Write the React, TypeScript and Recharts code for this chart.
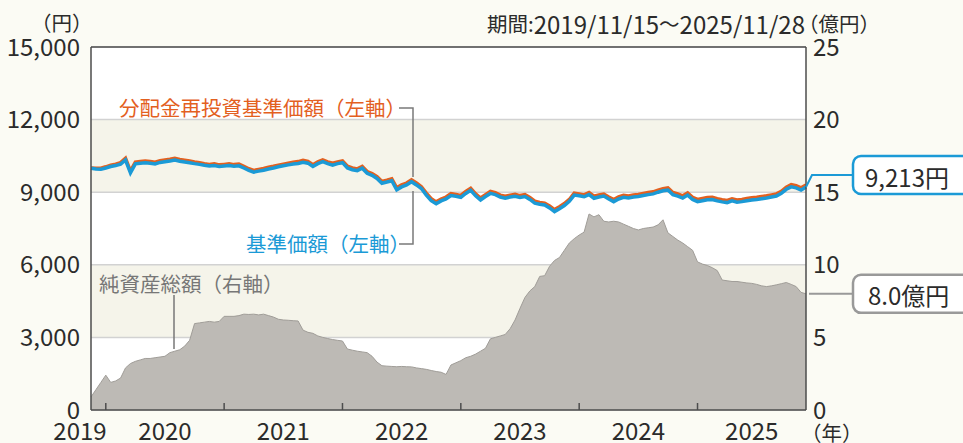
import {
  ComposedChart,
  Line,
  Area,
  XAxis,
  YAxis,
  CartesianGrid,
  ReferenceLine,
  ReferenceDot,
} from "recharts";

const FONT = "'Noto Sans CJK JP', 'Noto Sans', sans-serif";
const ORANGE = "#e3601f";
const BLUE = "#1b9ad6";
const AREA_FILL = "#bdbab5";
const AREA_LINE = "#a09d98";
const TEXT = "#2b2b2b";
const FRAME = "#4d4d4d";
const LEADER = "#7a7a7a";

// half-month steps starting 2019/11/15
const navValues = [
  9990, 9960, 9945, 10000, 10060, 10100, 10160, 10330, 9800, 10170,
  10200, 10220, 10200, 10170, 10230, 10260, 10290, 10330, 10280, 10250,
  10220, 10180, 10150, 10110, 10080, 10100, 10060, 10080, 10100, 10070,
  10090, 10000, 9900, 9830, 9870, 9910, 9960, 10000, 10050, 10090,
  10130, 10165, 10190, 10240, 10200, 10060, 10180, 10260, 10180, 10120,
  10180, 10220, 10000, 9930, 9890, 9990, 9780, 9700, 9570, 9370,
  9420, 9475, 9100, 9220, 9300, 9435, 9300, 9150, 8880, 8650,
  8520, 8640, 8720, 8860, 8830, 8790, 8950, 9080, 8850, 8680,
  8820, 8950, 8900, 8800, 8750, 8800, 8830, 8780, 8820, 8700,
  8550, 8500, 8470, 8350, 8200, 8320, 8450, 8620, 8880, 8850,
  8810, 8900, 8750, 8800, 8840, 8720, 8610, 8720, 8790, 8760,
  8800, 8820, 8860, 8900, 8930, 9000, 9060, 9090, 8900, 8840,
  8760, 8880, 8700, 8610, 8650, 8690, 8700, 8640, 8600, 8570,
  8640, 8590, 8610, 8650, 8680, 8700, 8730, 8760, 8800, 8840,
  8950, 9120, 9220, 9180, 9090, 9213,
];

const reinvestedValues = [
  10000, 9990, 9990, 10050, 10120, 10160, 10220, 10400, 9870, 10240,
  10270, 10290, 10270, 10240, 10300, 10330, 10360, 10400, 10350, 10320,
  10290, 10250, 10220, 10180, 10150, 10170, 10130, 10150, 10170, 10140,
  10160, 10070, 9970, 9900, 9940, 9980, 10030, 10070, 10120, 10160,
  10200, 10240, 10265, 10315, 10275, 10135, 10255, 10335, 10255, 10195,
  10255, 10295, 10075, 10005, 9965, 10065, 9855, 9775, 9645, 9445,
  9495, 9550, 9180, 9300, 9380, 9515, 9380, 9230, 8960, 8730,
  8600, 8720, 8800, 8940, 8910, 8870, 9030, 9160, 8930, 8760,
  8900, 9030, 8980, 8880, 8830, 8880, 8910, 8860, 8900, 8780,
  8630, 8580, 8550, 8430, 8280, 8400, 8530, 8700, 8960, 8930,
  8890, 8985, 8835, 8885, 8925, 8805, 8695, 8805, 8875, 8845,
  8885, 8905, 8945, 8985, 9015, 9085, 9145, 9180, 8990, 8930,
  8850, 8970, 8790, 8700, 8740, 8780, 8790, 8730, 8690, 8660,
  8730, 8680, 8700, 8740, 8770, 8790, 8820, 8850, 8890, 8930,
  9040, 9210, 9310, 9270, 9180, 9300,
];

const assetValues = [
  0.9, 1.4, 1.9, 2.4, 1.9, 2.0, 2.2, 2.9, 3.2, 3.35,
  3.45, 3.55, 3.55, 3.6, 3.65, 3.7, 3.95, 4.05, 4.15, 4.4,
  4.8, 5.95, 6.0, 6.05, 6.1, 6.05, 6.1, 6.45, 6.45, 6.45,
  6.5, 6.6, 6.58, 6.6, 6.55, 6.6, 6.5, 6.4, 6.25, 6.2,
  6.18, 6.15, 6.13, 5.5, 5.35, 5.28, 5.1, 5.0, 4.92, 4.85,
  4.8, 4.75, 4.2, 4.12, 4.05, 4.0, 3.95, 3.7, 3.3, 3.05,
  3.02, 3.0, 2.98, 3.0, 2.98, 2.97, 2.9, 2.85, 2.8, 2.72,
  2.65, 2.6, 2.45, 3.1, 3.25, 3.4, 3.6, 3.7, 3.85, 4.05,
  4.25, 4.9, 5.0, 5.1, 5.2, 5.6, 6.2, 7.0, 7.75, 8.2,
  8.5, 9.2, 9.25, 9.9, 10.3, 10.5, 11.0, 11.5, 11.8, 12.05,
  12.25, 13.5, 13.3, 13.45, 13.0, 12.95, 13.0, 12.95, 12.8, 12.65,
  12.5, 12.4, 12.5, 12.55, 12.6, 12.75, 13.1, 12.2, 11.95, 11.7,
  11.5, 11.25, 11.0, 10.2, 10.05, 9.95, 9.8, 9.6, 8.95, 8.9,
  8.85, 8.85, 8.8, 8.75, 8.72, 8.65, 8.55, 8.5, 8.55, 8.62,
  8.7, 8.78, 8.65, 8.5, 8.1, 8.0,
];

const yearLabels = ["2019", "2020", "2021", "2022", "2023", "2024", "2025"];
const yearLabelPos = [0, 15, 39, 63, 87, 111, 134];
const yearStartPos = [3, 27, 51, 75, 99, 123];
const leftTicks = [0, 3000, 6000, 9000, 12000, 15000];
const rightTicks = [0, 5, 10, 15, 20, 25];

const data = navValues.map((nav, i) => ({
  t: i,
  nav,
  reinvested: reinvestedValues[i],
  assets: assetValues[i],
}));
const lastT = data.length - 1;
const lastNav = navValues[lastT];
const lastAssets = assetValues[lastT];

const withComma = (v: number) =>
  String(v).replace(/\B(?=(\d{3})+(?!\d))/g, ",");

function YearTick({ x, y, payload }: any) {
  const v = payload.value;
  if (yearStartPos.includes(v)) {
    return (
      <line x1={x} x2={x} y1={y - 7} y2={y} stroke={FRAME} strokeWidth={1.5} />
    );
  }
  const idx = yearLabelPos.indexOf(v);
  if (idx < 0) return null;
  return (
    <text
      x={idx === 0 ? x - 11 : x}
      y={y + 30}
      textAnchor="middle"
      fill={TEXT}
      fontSize={24}
      fontFamily={FONT}
    >
      {yearLabels[idx]}
    </text>
  );
}

function NavCallout({ cx, cy }: any) {
  return (
    <g>
      <polyline
        points={`${cx},${cy} ${cx + 6},${cy - 12} ${cx + 47},${cy - 12}`}
        fill="none"
        stroke={BLUE}
        strokeWidth={2}
      />
      <rect
        x={cx + 47}
        y={cy - 31}
        width={140}
        height={38}
        rx={8}
        fill="#fff"
        stroke={BLUE}
        strokeWidth={2.5}
      />
      <text
        x={cx + 59}
        y={cy - 11}
        dominantBaseline="central"
        fontSize={24}
        fill={TEXT}
        fontFamily={FONT}
      >
        {withComma(lastNav)}円
      </text>
    </g>
  );
}

function AssetsCallout({ cx, cy }: any) {
  return (
    <g>
      <line x1={cx + 3} x2={cx + 47} y1={cy} y2={cy} stroke="#999" strokeWidth={2} />
      <rect
        x={cx + 47}
        y={cy - 19}
        width={140}
        height={38}
        rx={8}
        fill="#fff"
        stroke="#999"
        strokeWidth={2.5}
      />
      <text
        x={cx + 62}
        y={cy + 1}
        dominantBaseline="central"
        fontSize={24}
        fill={TEXT}
        fontFamily={FONT}
      >
        {lastAssets.toFixed(1)}億円
      </text>
    </g>
  );
}

function Overlay() {
  return (
    <svg
      width={963}
      height={443}
      style={{ position: "absolute", left: 0, top: 0, pointerEvents: "none" }}
      fontFamily={FONT}
    >
      <text x={31} y={22} dominantBaseline="central" fontSize={20.5} fill={TEXT}>
        （円）
      </text>
      <text x={805} y={23} textAnchor="end" dominantBaseline="central" fill={TEXT}>
        <tspan fontSize={20.5}>期間:</tspan>
        <tspan fontSize={24}>2019/11/15</tspan>
        <tspan fontSize={20.5}>～</tspan>
        <tspan fontSize={24}>2025/11/28</tspan>
      </text>
      <text x={798} y={23} dominantBaseline="central" fontSize={20.5} fill={TEXT}>
        （億円）
      </text>
      <text x={801} y={432} dominantBaseline="central" fontSize={20.5} fill={TEXT}>
        （年）
      </text>

      <text x={119} y={107} dominantBaseline="central" fontSize={20.5} fill={ORANGE}>
        分配金再投資基準価額（左軸）
      </text>
      <polyline
        points="399,108 413,108 413,177"
        fill="none"
        stroke={LEADER}
        strokeWidth={1.5}
      />
      <text x={246} y={243} dominantBaseline="central" fontSize={20.5} fill={BLUE}>
        基準価額（左軸）
      </text>
      <polyline
        points="399,244 413,244 413,191"
        fill="none"
        stroke={LEADER}
        strokeWidth={1.5}
      />
      <text x={99} y={283} dominantBaseline="central" fontSize={20.5} fill="#777">
        純資産総額（右軸）
      </text>
      <line x1={174} x2={174} y1={295} y2={349} stroke="#777" strokeWidth={1.5} />
    </svg>
  );
}

export default function App() {
  return (
    <div
      style={{
        position: "absolute",
        left: 0,
        top: 0,
        width: 963,
        height: 443,
        background: "#fbfbf4",
        fontFamily: FONT,
      }}
    >
      <ComposedChart
        width={963}
        height={443}
        data={data}
        margin={{ top: 47, right: 117, bottom: 0, left: 0 }}
      >
        <CartesianGrid
          yAxisId="left"
          vertical={false}
          stroke="#d2d2d2"
          strokeWidth={1.5}
          horizontalFill={["#ffffff", "#f5f4ea"]}
          fillOpacity={1}
        />
        <XAxis
          dataKey="t"
          type="number"
          domain={[0, lastT]}
          ticks={[...yearLabelPos, ...yearStartPos].sort((a, b) => a - b)}
          interval={0}
          height={33}
          tickSize={0}
          tickMargin={0}
          tickLine={false}
          axisLine={{ stroke: FRAME, strokeWidth: 1.5 }}
          tick={<YearTick />}
        />
        <YAxis
          yAxisId="left"
          domain={[0, 15000]}
          ticks={leftTicks}
          interval={0}
          width={91}
          tickSize={0}
          tickMargin={11}
          tickLine={false}
          tickFormatter={withComma}
          axisLine={{ stroke: FRAME, strokeWidth: 1.5 }}
          tick={{ fontSize: 24, fill: TEXT, fontFamily: FONT }}
        />
        <YAxis
          yAxisId="right"
          orientation="right"
          domain={[0, 25]}
          ticks={rightTicks}
          interval={0}
          width={40}
          tickSize={0}
          tickMargin={7}
          tickLine={false}
          axisLine={{ stroke: FRAME, strokeWidth: 1.5 }}
          tick={{ fontSize: 24, fill: TEXT, fontFamily: FONT, textAnchor: "start" }}
        />
        <Area
          yAxisId="right"
          type="linear"
          dataKey="assets"
          fill={AREA_FILL}
          fillOpacity={1}
          stroke={AREA_LINE}
          strokeWidth={1}
          isAnimationActive={false}
        />
        <Line
          yAxisId="left"
          type="linear"
          dataKey="reinvested"
          stroke={ORANGE}
          strokeWidth={3.5}
          dot={false}
          isAnimationActive={false}
        />
        <Line
          yAxisId="left"
          type="linear"
          dataKey="nav"
          stroke={BLUE}
          strokeWidth={3.5}
          dot={false}
          isAnimationActive={false}
        />
        <ReferenceLine yAxisId="left" y={15000} stroke={FRAME} strokeWidth={1.5} />
        <ReferenceDot
          yAxisId="left"
          x={lastT}
          y={lastNav}
          r={1}
          shape={(p: any) => <NavCallout cx={p.cx} cy={p.cy} />}
        />
        <ReferenceDot
          yAxisId="right"
          x={lastT}
          y={lastAssets}
          r={1}
          shape={(p: any) => <AssetsCallout cx={p.cx} cy={p.cy} />}
        />
      </ComposedChart>
      <Overlay />
    </div>
  );
}
